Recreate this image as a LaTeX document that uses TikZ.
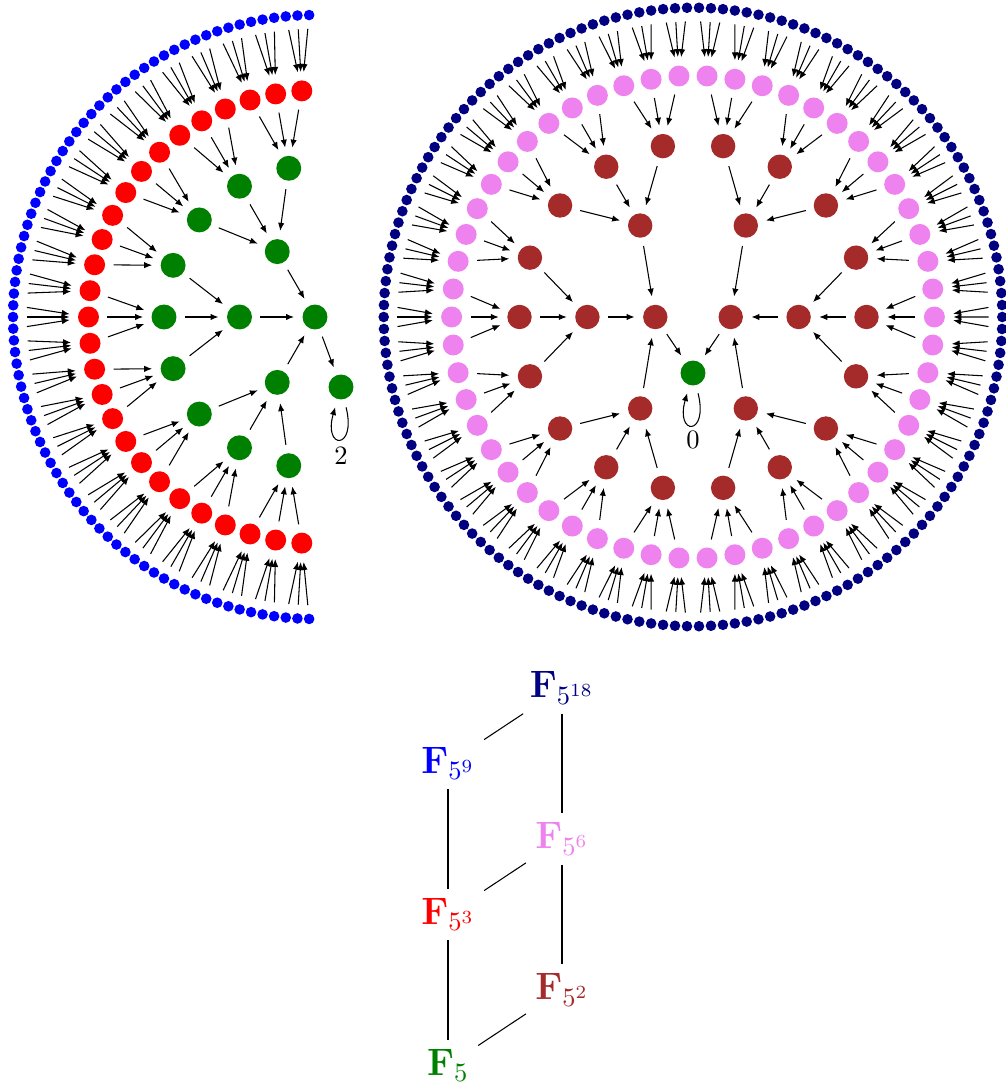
\documentclass[tikz,border=0pt]{standalone}
\usetikzlibrary{arrows.meta}
\definecolor{cGreen}{RGB}{0,128,0}
\definecolor{cRed}{RGB}{255,0,0}
\definecolor{cBlue}{RGB}{0,0,255}
\definecolor{cBrown}{RGB}{165,42,42}
\definecolor{cViolet}{RGB}{238,130,238}
\definecolor{cNavy}{RGB}{0,0,128}
\begin{document}
\begin{tikzpicture}[x=0.377pt,y=0.377pt,
  dot/.style={circle,inner sep=0pt,outer sep=0pt,draw=none},
  arr/.style={-{Latex[length=3pt,width=2.4pt]},shorten <=3.2pt,shorten >=3.2pt},
  selfloop/.style={arr,out=-76,in=-106,distance=20pt},
  lab/.style={inner sep=3.33pt},
]
\useasboundingbox (0,0) rectangle (1006,1087);

% ---------- functional graph over F_{5^9} (left half) ----------
\node[dot,minimum size=9.4pt,fill=cGreen] (a0) at (315,770) {};
\node[dot,minimum size=9.4pt,fill=cGreen] (afix) at (341,700) {};
\foreach \k/\n/\sz/\col in {1/3/9.4pt/cGreen,2/9/9.4pt/cGreen,3/27/7.9pt/cRed,4/81/4pt/cBlue}{
  \pgfmathtruncatemacro{\last}{\n-1}
  \pgfmathsetmacro{\stepang}{180/\n}
  \foreach \i in {0,...,\last}{
    \pgfmathsetmacro{\ang}{90+(\i+0.5)*\stepang}
    \node[dot,minimum size=\sz,fill=\col] (a\k-\i)
      at ({315+75.5*\k*cos(\ang)},{770+75.5*\k*sin(\ang)}) {};
  }
}
\foreach \k/\n in {2/9,3/27,4/81}{
  \pgfmathtruncatemacro{\last}{\n-1}
  \pgfmathtruncatemacro{\pk}{\k-1}
  \foreach \i in {0,...,\last}{
    \pgfmathtruncatemacro{\p}{floor(\i/3)}
    \draw[arr] (a\k-\i) -- (a\pk-\p);
  }
}
\foreach \i in {0,1,2} \draw[arr] (a1-\i) -- (a0);
\draw[arr] (a0) -- (afix);
\draw[selfloop] (afix) to (afix);
\node (t2) at (341,631) {2};

% ---------- functional graph over F_{5^18} (full circle) ----------
\node[dot,minimum size=9.4pt,fill=cGreen] (z) at (693,714) {};
\foreach \k/\m/\sz/\col in {0/1/9.2pt/cBrown,1/3/9.2pt/cBrown,2/9/9.2pt/cBrown,3/27/7.9pt/cViolet,4/81/4pt/cNavy}{
  \pgfmathtruncatemacro{\last}{2*\m-1}
  \pgfmathsetmacro{\rad}{37.7+67.9*\k}
  \pgfmathsetmacro{\stepang}{180/\m}
  \foreach \i in {0,...,\last}{
    \pgfmathsetmacro{\ang}{90+(\i+0.5)*\stepang}
    \node[dot,minimum size=\sz,fill=\col] (b\k-\i)
      at ({693+\rad*cos(\ang)},{770+\rad*sin(\ang)}) {};
  }
}
\foreach \k/\m in {1/3,2/9,3/27,4/81}{
  \pgfmathtruncatemacro{\last}{2*\m-1}
  \pgfmathtruncatemacro{\pk}{\k-1}
  \foreach \i in {0,...,\last}{
    \pgfmathtruncatemacro{\p}{floor(\i/3)}
    \draw[arr] (b\k-\i) -- (b\pk-\p);
  }
}
\foreach \i in {0,1} \draw[arr] (b0-\i) -- (z);
\draw[selfloop] (z) to (z);
\node (t0) at (693,647) {0};

% ---------- subfield lattice ----------
\node[lab,text=cGreen]  (f1)  at (448,21.5)  {\Large$\mathbf{F}_{5}$};
\node[lab,text=cBrown]  (f2)  at (562,97)    {\Large$\mathbf{F}_{5^2}$};
\node[lab,text=cRed]    (f3)  at (448,172.5) {\Large$\mathbf{F}_{5^3}$};
\node[lab,text=cViolet] (f6)  at (562,248)   {\Large$\mathbf{F}_{5^6}$};
\node[lab,text=cBlue]   (f9)  at (448,323.5) {\Large$\mathbf{F}_{5^9}$};
\node[lab,text=cNavy]   (f18) at (562,399)   {\Large$\mathbf{F}_{5^{18}}$};
\draw (f18) -- (f9);
\draw (f18) -- (f6);
\draw (f9) -- (f3);
\draw (f6) -- (f3);
\draw (f6) -- (f2);
\draw (f3) -- (f1);
\draw (f2) -- (f1);
\end{tikzpicture}
\end{document}
